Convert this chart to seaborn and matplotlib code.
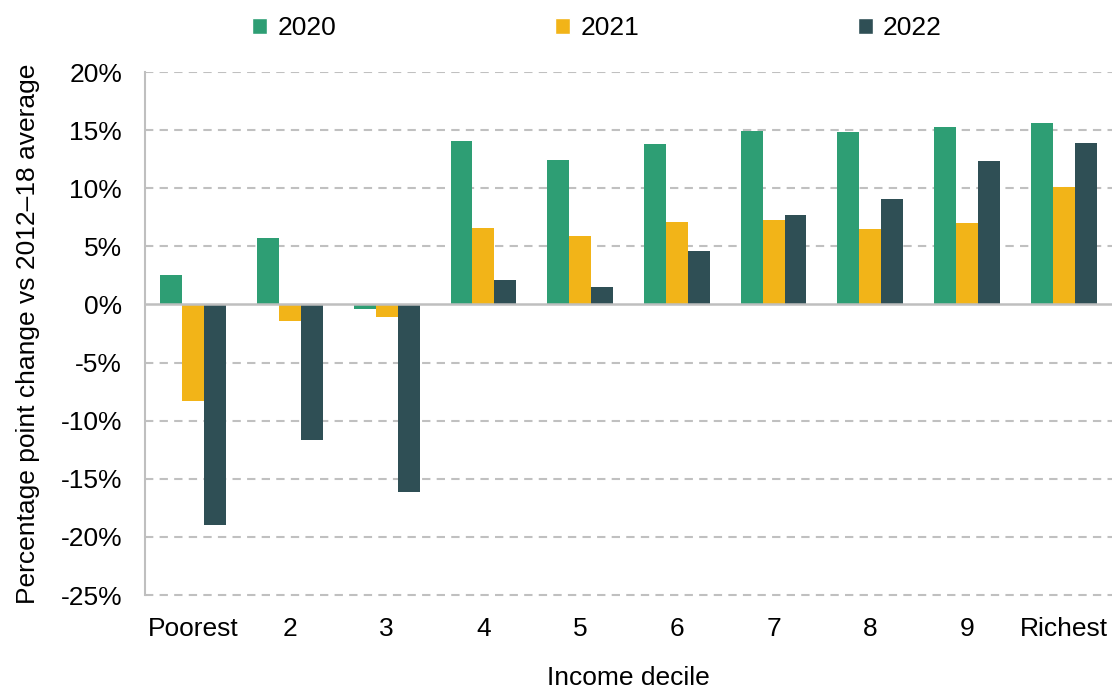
import matplotlib
matplotlib.use("Agg")
import matplotlib.pyplot as plt
import seaborn as sns
import pandas as pd
from matplotlib.patches import Patch

deciles = ["Poorest", "2", "3", "4", "5", "6", "7", "8", "9", "Richest"]
years = ["2020", "2021", "2022"]
v2020 = [2.5, 5.7, -0.4, 14.1, 12.4, 13.8, 14.9, 14.8, 15.3, 15.6]
v2021 = [-8.3, -1.4, -1.1, 6.6, 5.9, 7.1, 7.3, 6.5, 7.0, 10.1]
v2022 = [-19.0, -11.7, -16.1, 2.1, 1.5, 4.6, 7.7, 9.1, 12.3, 13.9]
yticks = [20, 15, 10, 5, 0, -5, -10, -15, -20, -25]
colors = ["#2E9E74", "#F2B418", "#2F4F55"]

rows = []
for yr, vals in zip(years, [v2020, v2021, v2022]):
    for d, v in zip(deciles, vals):
        rows.append({"decile": d, "year": yr, "value": v})
df = pd.DataFrame(rows)

sns.set_style("white")
plt.rcParams["font.family"] = ["Liberation Sans", "DejaVu Sans"]
plt.rcParams["text.color"] = "black"
plt.rcParams["axes.labelcolor"] = "black"
plt.rcParams["xtick.color"] = "black"
plt.rcParams["ytick.color"] = "black"
FS = 19

fig = plt.figure(figsize=(11.12, 6.89), dpi=100)
ax = fig.add_axes([0.1304, 0.1364, 0.8696, 0.7591])

sns.barplot(data=df, x="decile", y="value", hue="year", order=deciles,
            hue_order=years, palette=colors, width=0.68, saturation=1,
            errorbar=None, legend=False, ax=ax, zorder=3, linewidth=0,
            edgecolor="none")

ax.set_ylim(-25, 20)
ax.set_xlim(-0.5, 9.5)
ax.set_yticks(yticks)
ax.set_yticklabels([f"{t}%" for t in yticks], fontsize=FS)
for t in yticks:
    if t != 0 and t != -25:
        ax.axhline(t, color="#C0C0C0", lw=1.5, ls=(0, (4, 3)), zorder=0)
ax.axhline(-25, color="#C0C0C0", lw=1.5, ls=(0, (4, 3)), zorder=0, clip_on=False)

for s in ["top", "right"]:
    ax.spines[s].set_visible(False)
ax.spines["left"].set_color("#BFBFBF")
ax.spines["left"].set_linewidth(1.5)
ax.spines["bottom"].set_position(("data", 0))
ax.spines["bottom"].set_color("#BFBFBF")
ax.spines["bottom"].set_linewidth(1.8)
ax.spines["bottom"].set_zorder(4)
ax.set_xticks([i + 0.5 for i in range(-1, 10)])
ax.set_xticklabels([])
ax.tick_params(axis="x", direction="out", length=9, width=1.5, color="#BFBFBF")
ax.tick_params(axis="y", length=0, pad=16.5)
ax.set_xlabel("")
ax.set_ylabel("Percentage point change vs 2012\u201318 average", fontsize=FS, labelpad=14.5)

sec = ax.secondary_xaxis("bottom")
sec.set_xticks(range(len(deciles)))
sec.set_xticklabels(deciles, fontsize=FS)
sec.tick_params(length=0, pad=16)
sec.spines["bottom"].set_visible(False)
sec.set_xlabel("Income decile", fontsize=FS, labelpad=18)

handles = [Patch(facecolor=c, label=y) for c, y in zip(colors, years)]
fig.legend(handles=handles, loc="center", bbox_to_anchor=(0.537, 0.959), ncol=3,
           frameon=False, fontsize=FS, handlelength=0.55, handleheight=0.55,
           handletextpad=0.4, columnspacing=8.3)

fig.savefig("out.png", dpi=100)
